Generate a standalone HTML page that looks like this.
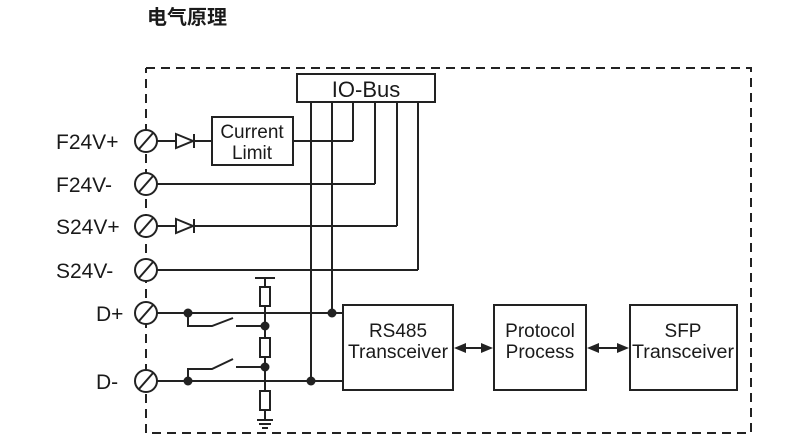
<!DOCTYPE html>
<html><head><meta charset="utf-8"><style>
html,body{margin:0;padding:0;background:#fff;width:790px;height:444px;overflow:hidden}
svg{display:block}
text{font-family:"Liberation Sans",Arial,sans-serif;fill:#1a1a1a}
</style></head><body>
<svg width="790" height="444" viewBox="0 0 790 444" xmlns="http://www.w3.org/2000/svg">
<text x="147" y="24" font-size="20" font-weight="bold" style='font-family:"Liberation Sans","Noto Sans CJK SC",sans-serif'>电气原理</text>
<g stroke="#222" stroke-width="2" fill="none">
<path d="M146 68 H751 V433 H146 V68" stroke-dasharray="9 6"/>
<rect x="297" y="74" width="138" height="28" fill="#fff"/>
<path d="M311 102 V381 M332 102 V313 M353 102 V141 M375 102 V184 M397 102 V226 M418 102 V270"/>
<path d="M157 141 H175 M194 141 H212 M293 141 H353"/>
<path d="M157 184 H375"/>
<path d="M157 226 H175 M194 226 H397"/>
<path d="M157 270 H418"/>
<path d="M157 313 H343"/>
<path d="M157 381 H343"/>
<path d="M176 134 L193 141 L176 148 Z M194 134 V148"/>
<path d="M176 219 L193 226 L176 233 Z M194 219 V233"/>
<rect x="212" y="117" width="81" height="48"/>
<path d="M255 278 H275 M265 278 V287 M265 306 V338 M265 357 V391 M265 410 V420 M257 420 H273 M259 424 H271 M262 428 H268"/>
<rect x="260" y="287" width="10" height="19"/>
<rect x="260" y="338" width="10" height="19"/>
<rect x="260" y="391" width="10" height="19"/>
<path d="M188 313 V326 H212 L233 318 M236 326 H265"/>
<path d="M188 381 V369 H212 L233 359 M236 367 H265"/>
<rect x="343" y="305" width="110" height="85"/>
<rect x="494" y="305" width="92" height="85"/>
<rect x="630" y="305" width="107" height="85"/>
<path d="M462 348 H485 M595 348 H621"/>
</g>
<g stroke="#222" stroke-width="2" fill="#fff">
<circle cx="146" cy="141" r="11"/><circle cx="146" cy="184" r="11"/><circle cx="146" cy="226" r="11"/>
<circle cx="146" cy="270" r="11"/><circle cx="146" cy="313" r="11"/><circle cx="146" cy="381" r="11"/>
</g>
<g stroke="#222" stroke-width="2">
<path d="M139 149 L153 133 M139 192 L153 176 M139 234 L153 218 M139 278 L153 262 M139 321 L153 305 M139 389 L153 373"/>
</g>
<g fill="#222">
<circle cx="188" cy="313" r="4.5"/><circle cx="188" cy="381" r="4.5"/>
<circle cx="265" cy="326" r="4.5"/><circle cx="265" cy="367" r="4.5"/>
<circle cx="332" cy="313" r="4.5"/><circle cx="311" cy="381" r="4.5"/>
<path d="M454 348 L466 343 L466 353 Z M493 348 L481 343 L481 353 Z"/>
<path d="M587 348 L599 343 L599 353 Z M629 348 L617 343 L617 353 Z"/>
</g>
<g font-size="19">
<text x="366" y="97" font-size="22" text-anchor="middle">IO-Bus</text>
<text x="252" y="138" text-anchor="middle">Current</text>
<text x="252" y="159" text-anchor="middle">Limit</text>
<g font-size="21">
<text x="56" y="149">F24V+</text>
<text x="56" y="192">F24V-</text>
<text x="56" y="234">S24V+</text>
<text x="56" y="278">S24V-</text>
<text x="96" y="321">D+</text>
<text x="96" y="389">D-</text>
</g>
<text x="398" y="337" text-anchor="middle">RS485</text>
<text x="398" y="358" text-anchor="middle" textLength="100" lengthAdjust="spacingAndGlyphs">Transceiver</text>
<text x="540" y="337" text-anchor="middle">Protocol</text>
<text x="540" y="358" text-anchor="middle">Process</text>
<text x="683" y="337" text-anchor="middle">SFP</text>
<text x="683" y="358" text-anchor="middle" textLength="102" lengthAdjust="spacingAndGlyphs">Transceiver</text>
</g>
</svg>
</body></html>
